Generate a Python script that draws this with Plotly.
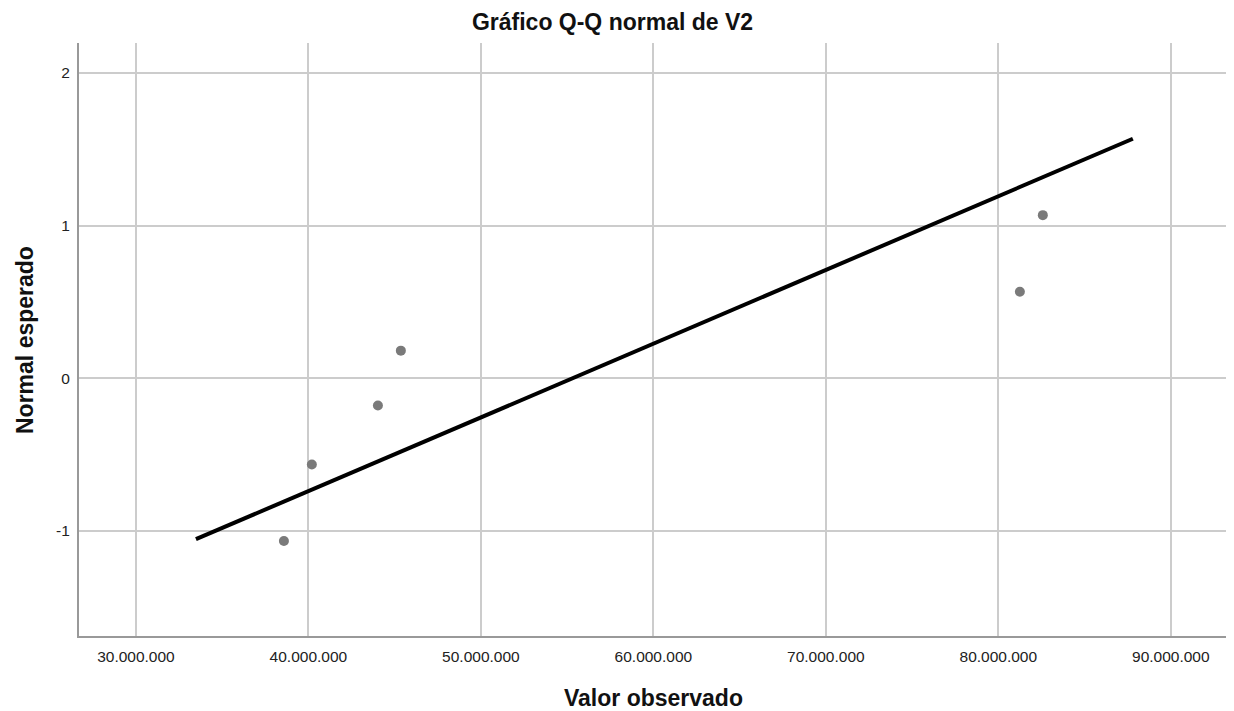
import plotly.graph_objects as go

# Observed values (V2) and expected normal quantiles
observed = [38580000, 40200000, 44030000, 45360000, 81250000, 82580000]
expected = [-1.068, -0.566, -0.180, 0.180, 0.566, 1.068]

# Reference line (y = (x - mean) / sd)
line_x = [33480000, 87800000]
mean_v = 55330000
sd_v = 20700000
line_y = [(v - mean_v) / sd_v for v in line_x]

x_ticks = [30000000, 40000000, 50000000, 60000000, 70000000, 80000000, 90000000]
y_ticks = [-1, 0, 1, 2]
y_tick_labels = ["-1", "0", "1", "2"]

fig = go.Figure()
fig.add_trace(go.Scatter(
    x=line_x, y=line_y, mode="lines",
    line=dict(color="black", width=4), showlegend=False, hoverinfo="skip"))
fig.add_trace(go.Scatter(
    x=observed, y=expected, mode="markers",
    marker=dict(color="#7a7a7a", size=10), showlegend=False))

FONT = "Liberation Sans, Arial, sans-serif"
fig.update_layout(
    width=1234, height=711,
    margin=dict(l=79, r=8, t=43, b=75),
    paper_bgcolor="white", plot_bgcolor="white",
    separators=",.",
    font=dict(family=FONT, color="black"),
    title=dict(text="<b>Gráfico Q-Q normal de V2</b>", x=612.5 / 1234, xanchor="center",
               y=1 - 22 / 711, yanchor="middle", font=dict(size=23, color="#111")),
    annotations=[
        dict(text="<b>Valor observado</b>", xref="paper", yref="paper",
             x=(653 - 79) / 1147, y=(636 - 698) / 593, xanchor="center", yanchor="middle",
             showarrow=False, font=dict(size=23, color="#111")),
        dict(text="<b>Normal esperado</b>", xref="paper", yref="paper",
             x=(25 - 79) / 1147, y=(636 - 340) / 593, xanchor="center", yanchor="middle",
             textangle=-90, showarrow=False, font=dict(size=23, color="#111")),
    ],
)
fig.update_xaxes(
    range=[26700000, 93200000], tickvals=x_ticks, tickformat=",d",
    showgrid=True, gridcolor="#cccccc", gridwidth=1.5,
    showline=True, linecolor="#999999", linewidth=2,
    zeroline=False, ticks="", tickfont=dict(size=15.5, color="#222"),
    ticklabelstandoff=5,
)
fig.update_yaxes(
    range=[-1.69, 2.196], tickvals=y_ticks, ticktext=y_tick_labels,
    showgrid=True, gridcolor="#cccccc", gridwidth=1.5,
    showline=True, linecolor="#999999", linewidth=2,
    zeroline=False, ticks="", tickfont=dict(size=15.5, color="#222"),
    ticklabelstandoff=4,
)

fig.write_html("out.html", config={"displayModeBar": False},
               post_script="document.body.style.margin='0px';")
